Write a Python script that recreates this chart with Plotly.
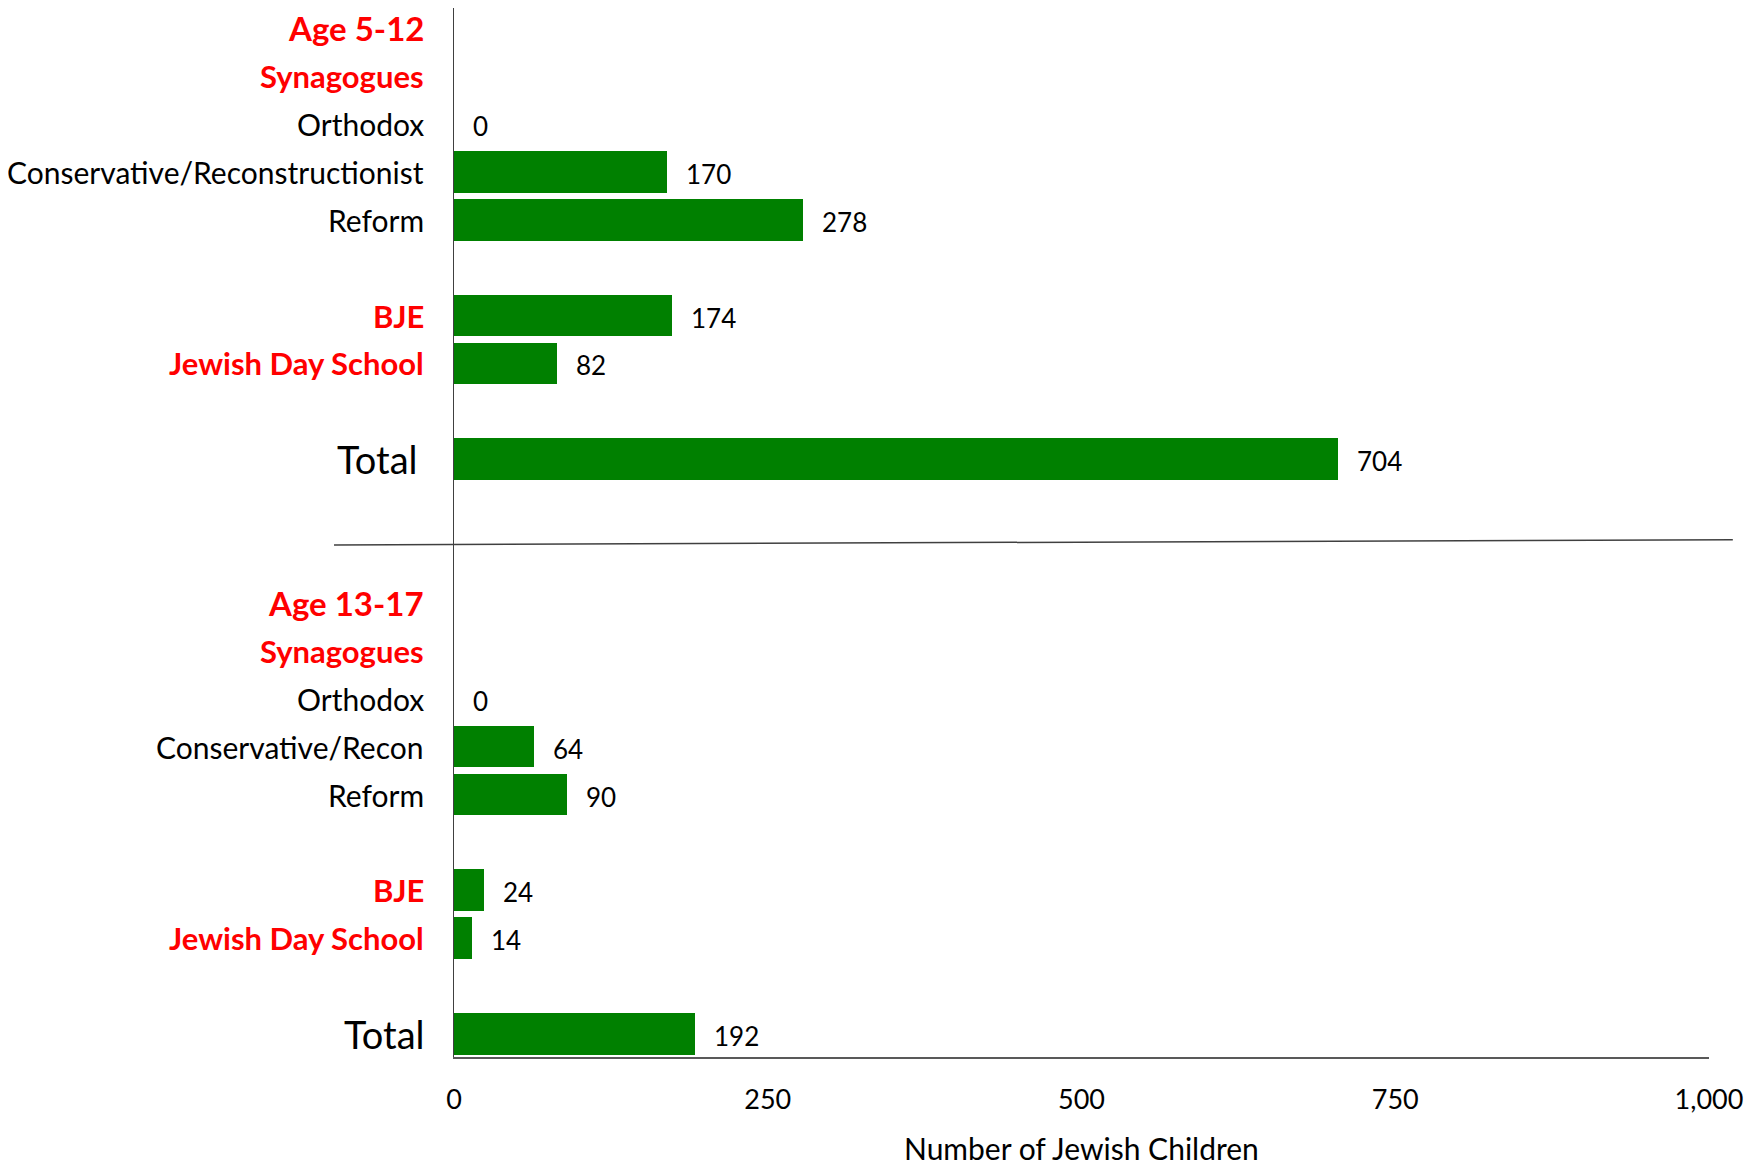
import plotly.graph_objects as go

# ---- data ----
heading_5_12 = "Age 5-12"
heading_13_17 = "Age 13-17"
subheading = "Synagogues"
categories_5_12 = ["Orthodox", "Conservative/Reconstructionist", "Reform", "BJE", "Jewish Day School", "Total"]
values_5_12 = [0, 170, 278, 174, 82, 704]
categories_13_17 = ["Orthodox", "Conservative/Recon", "Reform", "BJE", "Jewish Day School", "Total"]
values_13_17 = [0, 64, 90, 24, 14, 192]
tick_vals = [0, 250, 500, 750, 1000]
tick_labels = ["0", "250", "500", "750", "1,000"]
x_title = "Number of Jewish Children"

# row positions (layout only)
rows_5_12 = [2, 3, 4, 6, 7, 9]
rows_13_17 = [14, 15, 16, 18, 19, 21]
heading_rows = {0: heading_5_12, 12: heading_13_17}
sub_rows = [1, 13]

GREEN = "#008000"
RED = "#FF0000"
FONT = "Lato"

fig = go.Figure()
ys = rows_5_12 + rows_13_17
xs = values_5_12 + values_13_17
labels = categories_5_12 + categories_13_17

fig.add_trace(go.Bar(
    x=xs, y=ys, orientation="h", width=0.87,
    marker=dict(color=GREEN, line=dict(width=0)),
    hoverinfo="skip", showlegend=False,
))

LX = -28
annotations = []
# data labels
for v, r in zip(xs, ys):
    annotations.append(dict(x=v, y=r, xref="x", yref="y", text=str(v), showarrow=False,
                            xanchor="left", yanchor="middle", xshift=17, yshift=-2,
                            font=dict(family=FONT, size=26, color="black")))
# category labels
for lab, r in zip(labels, ys):
    if lab in ("BJE", "Jewish Day School"):
        txt, col, size = "<b>%s</b>" % lab, RED, 31
    elif lab == "Total":
        txt, col, size = lab, "black", 38
    else:
        txt, col, size = lab, "black", 30
    annotations.append(dict(x=0, y=r, xref="x", yref="y", text=txt, showarrow=False,
                            xanchor="right", yanchor="middle", xshift=LX - (7 if (lab == "Total" and r < 12) else 0),
                            font=dict(family=FONT, size=size, color=col)))
for r, t in heading_rows.items():
    annotations.append(dict(x=0, y=r, xref="x", yref="y", text="<b>%s</b>" % t, showarrow=False,
                            xanchor="right", yanchor="middle", xshift=LX,
                            font=dict(family=FONT, size=33, color=RED)))
for r in sub_rows:
    annotations.append(dict(x=0, y=r, xref="x", yref="y", text="<b>%s</b>" % subheading, showarrow=False,
                            xanchor="right", yanchor="middle", xshift=LX,
                            font=dict(family=FONT, size=31, color=RED)))
# x axis title
annotations.append(dict(x=0.5, y=0, xref="paper", yref="paper", text=x_title, showarrow=False,
                        xanchor="center", yanchor="middle", yshift=-91,
                        font=dict(family=FONT, size=30, color="black")))

fig.update_layout(
    width=1746, height=1158,
    margin=dict(l=446, r=45, t=0, b=109),
    plot_bgcolor="white", paper_bgcolor="white",
    annotations=annotations,
    bargap=0,
    shapes=[dict(type="line", xref="paper", yref="y", x0=-0.0956, x1=1.019, y0=10.79, y1=10.68,
                 line=dict(color="#404040", width=1.5))],
    xaxis=dict(range=[0, 1000], tickvals=tick_vals, ticktext=tick_labels, showgrid=False, zeroline=False,
               showline=True, linecolor="#595959", linewidth=1.5, ticks="", ticklabelstandoff=18,
               automargin=False,
               tickfont=dict(family=FONT, size=27, color="black")),
    yaxis=dict(range=[21.48, -0.42], showticklabels=False, showgrid=False, zeroline=False,
               automargin=False,
               showline=True, linecolor="#404040", linewidth=1, ticks=""),
)

fig.write_html("out.html")
